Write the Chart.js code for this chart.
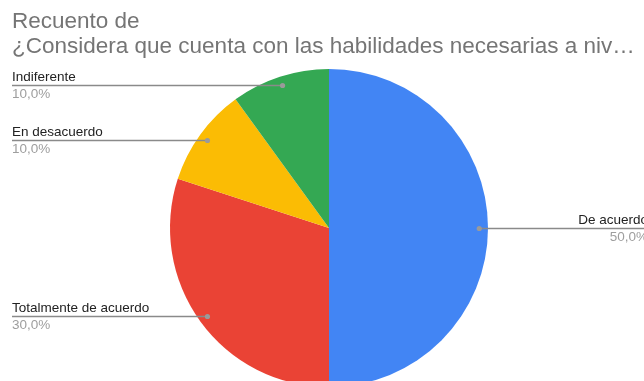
<!DOCTYPE html>
<html>
<head>
<meta charset="utf-8">
<script src="https://cdn.jsdelivr.net/npm/chart.js@4/dist/chart.umd.min.js"></script>
<style>
html,body{margin:0;padding:0;background:#fff;overflow:hidden;}
#wrap{position:relative;width:644px;height:381px;overflow:hidden;}
</style>
</head>
<body>
<div id="wrap"><canvas id="c" width="644" height="400"></canvas></div>
<script>
const titleLines = ["Recuento de", "¿Considera que cuenta con las habilidades necesarias a niv…"];
const categories = ["De acuerdo", "Totalmente de acuerdo", "En desacuerdo", "Indiferente"];
const values = [50, 30, 10, 10];
const colors = ["#4285F4", "#EA4335", "#FBBC04", "#34A853"];
const percentLabels = ["50,0%", "30,0%", "10,0%", "10,0%"];

const labelPlugin = {
  id: 'leaderLabels',
  afterDatasetsDraw(chart) {
    const ctx = chart.ctx;
    const meta = chart.getDatasetMeta(0);
    ctx.save();
    // title
    ctx.fillStyle = '#757575';
    ctx.font = '22.5px "Liberation Sans", Arial, sans-serif';
    ctx.textBaseline = 'alphabetic';
    ctx.textAlign = 'left';
    ctx.fillText(titleLines[0], 12, 28);
    ctx.fillText(titleLines[1], 12, 53);

    meta.data.forEach((arc, i) => {
      const p = arc.getProps(['x','y','startAngle','endAngle','outerRadius'], true);
      const mid = (p.startAngle + p.endAngle) / 2;
      const r = p.outerRadius * 0.945;
      const dx = p.x + Math.cos(mid) * r;
      const dy = p.y + Math.sin(mid) * r;
      const right = Math.cos(mid) > 0.01;
      const endX = right ? 650 : 12;
      const ly = Math.round(dy) + 0.5;
      ctx.strokeStyle = '#8a8a8a';
      ctx.lineWidth = 1.3;
      ctx.beginPath();
      ctx.moveTo(dx, ly);
      ctx.lineTo(endX, ly);
      ctx.stroke();
      ctx.fillStyle = '#9a9a9a';
      ctx.beginPath();
      ctx.arc(dx, ly, 2.6, 0, Math.PI * 2);
      ctx.fill();
      ctx.font = '13.5px "Liberation Sans", Arial, sans-serif';
      ctx.textAlign = right ? 'right' : 'left';
      const tx = right ? 648 : 12;
      ctx.fillStyle = '#222222';
      ctx.fillText(categories[i], tx, Math.round(dy) - 4);
      ctx.fillStyle = '#9e9e9e';
      ctx.fillText(percentLabels[i], tx, Math.round(dy) + 13);
    });
    ctx.restore();
  }
};

new Chart(document.getElementById('c'), {
  type: 'pie',
  data: {
    labels: categories,
    datasets: [{
      data: values,
      backgroundColor: colors,
      borderWidth: 0
    }]
  },
  options: {
    responsive: false,
    animation: false,
    layout: { padding: { top: 69, bottom: 13, left: 170, right: 156 } },
    plugins: { legend: { display: false }, tooltip: { enabled: false }, title: { display: false } }
  },
  plugins: [labelPlugin]
});
</script>
</body>
</html>
